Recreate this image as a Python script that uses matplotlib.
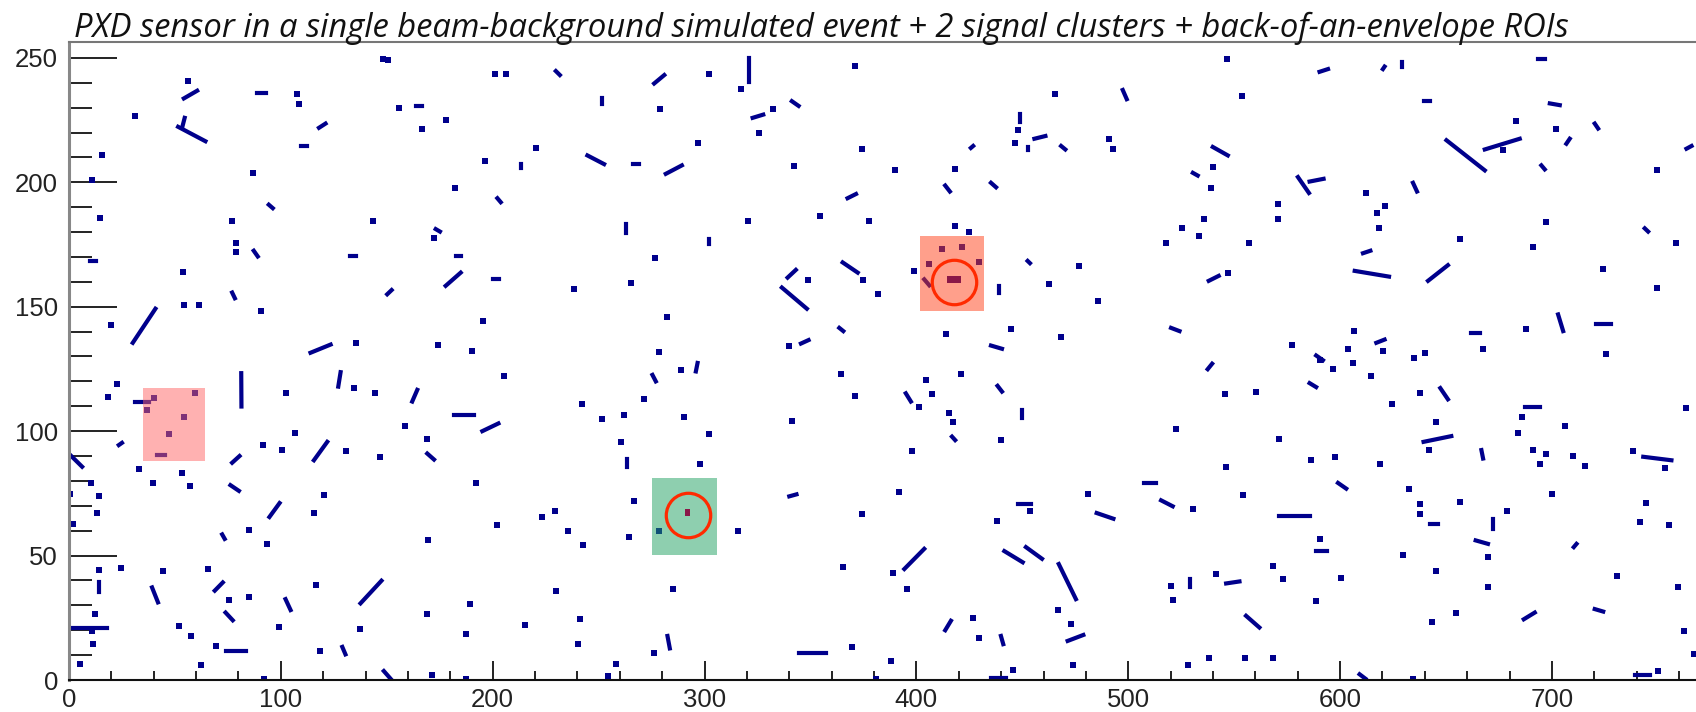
import matplotlib
matplotlib.use('Agg')
import matplotlib.pyplot as plt
from matplotlib.patches import Rectangle

plt.rcParams['font.family'] = ['Liberation Sans', 'DejaVu Sans']

title = 'PXD sensor in a single beam-background simulated event + 2 signal clusters + back-of-an-envelope ROIs'

# single fired pixels / compact clusters (column, row)
dots = [
    (148, 249.6), (150.5, 249), (56.2, 240.8), (155.7, 229.7), (177.8, 224.9), (166.4, 221.6),
    (31, 226.7), (15.6, 210.8), (10.9, 201.1), (86.9, 203.6), (182.2, 197.8), (14.5, 185.5),
    (77, 184.3), (143.6, 184.3), (172.3, 177.5), (78.6, 175.6), (78.6, 171.8), (53.7, 164.1),
    (54.2, 150.6), (61.3, 150.7), (90.7, 148.3), (20, 142.5), (135.3, 135.5), (174.2, 134.5),
    (190.1, 132.1), (107.4, 235.3), (108.5, 231.3),
    (201.1, 243.4), (206.5, 243.4), (301.9, 243.5), (317.1, 237.5), (371, 246.9), (279, 229.4),
    (332.1, 229.4), (325.8, 219.8), (296.7, 215.8), (220.3, 213.8), (196.4, 208.7), (342.3, 206.6),
    (374.1, 213.5), (354.6, 186.3), (377.5, 184.3), (320.5, 184.3), (276.5, 169.5), (238.4, 157),
    (265.2, 159.7), (348.6, 160.8), (374.6, 160.8), (381.7, 155), (195.4, 144.2), (282.5, 146),
    (340, 134.4), (278.6, 131.7),
    (546.7, 249.6), (465.4, 235.6), (553.8, 234.8), (447.8, 220.9), (446.4, 215.7), (491.1, 217.5),
    (493, 213.5), (389.7, 204.8), (418.3, 205.4), (539.9, 206.3), (539.1, 197.9), (570.6, 191.3),
    (418.2, 182.6), (425, 180.1), (535.7, 185.3), (525.4, 181.5), (533.6, 178.5), (517.9, 175.6),
    (556.9, 175.6), (570.6, 185.3), (399, 164.4), (462.7, 159.3), (476.6, 166.4), (485.6, 152.3),
    (547, 163.7), (413.9, 138.9), (444.6, 141.1), (468.3, 137.9),
    (412, 173.2), (421.5, 173.8), (405.8, 167.1), (429.4, 168),
    (683.2, 224.5), (702.1, 221.6), (749.4, 204.8), (612.4, 195.7), (617.4, 187.7), (621, 190.6),
    (618.3, 181.5), (656.5, 177.2), (697.1, 184.2), (691.1, 173.8), (758.5, 175.6), (724.2, 165.1),
    (749.4, 157.7), (606.4, 140.2), (577.4, 134.8), (603.7, 133.1), (620.2, 132.1), (634.7, 129.4),
    (639.9, 131.5), (667.5, 133.1), (687.6, 141.1), (725.4, 131.2), (676.9, 212.8),
    (22.7, 119), (18.4, 113.9), (40, 113.2), (36.9, 108.5), (59.7, 115.2), (54.2, 105.8),
    (47.4, 98.8), (134.5, 117.3), (102.2, 115.2), (144.4, 115.2), (158.6, 102.1), (169.1, 96.8),
    (32.9, 84.6), (39.7, 79.2), (53.4, 83.2), (56.9, 78), (10.2, 79.2), (14, 73.8), (13.2, 67.1),
    (1.7, 62.8), (0.5, 74.9), (91.5, 94.4), (100.6, 92.4), (106.6, 99.4), (130.9, 92.1),
    (146.6, 89.7), (120.6, 74.2), (115.6, 67.1), (85.2, 60.1), (93.5, 54.7), (169.6, 56.3),
    (191.9, 79.2), (14.3, 44.2), (24.4, 45), (44.4, 44), (65.7, 44.6), (75.4, 32.1), (85.2, 33.5),
    (116.4, 38.3), (189.1, 30.5), (169.1, 26.7), (12.1, 26.5), (10.9, 19.7), (11.2, 14.4),
    (5.4, 6.6), (52.1, 21.7), (57.8, 17.7), (69.4, 13.7), (99, 21.1), (137.2, 20.4), (118.3, 11.7),
    (62.5, 6), (187.2, 18.4), (171.5, 2.2), (92, 0.5),
    (205.4, 122.2), (288.8, 124.7), (364.4, 123.1), (371, 114.2), (271.2, 113), (242, 110.8),
    (251.5, 104.9), (262, 106.5), (290.5, 105.8), (341.2, 104.2), (301.9, 98.8), (260.5, 95.7),
    (297.8, 86.7), (266.8, 71.9), (229.4, 67.9), (223.1, 65.7), (374.3, 66.8), (202.2, 62.1),
    (235.7, 59.7), (242.7, 54.4), (264.4, 57.4), (278.6, 59.7), (315.6, 59.7), (365.2, 45.6),
    (284.9, 36.5), (229.8, 35.9), (215.1, 22), (241.1, 24.4), (240.5, 14.6), (276.2, 11),
    (369.6, 13.3), (258.1, 6.3), (254.2, 1.6), (187.2, 0.5), (380.9, 0.5),
    (421, 123), (404.5, 120.4), (401, 109.9), (407.6, 114.8), (415.5, 107.2), (417.1, 103.8),
    (439.9, 96.4), (397.9, 92.1), (522.6, 100.7), (545.9, 115), (560.1, 115.7), (546.2, 85.4),
    (391.9, 75.6), (480.9, 74.9), (453.6, 67.9), (530.5, 68.8), (554.1, 74.2), (437.9, 63.9),
    (389.1, 43), (395.8, 36.6), (466.7, 28.1), (426.5, 24.8), (429.7, 16.8), (473, 22.4),
    (388, 7.6), (445.4, 3.9), (473.8, 6), (520.2, 37.9), (541.2, 42.6), (521, 32.1), (528.1, 6),
    (538.3, 9), (554.9, 8.7), (568.2, 9), (568.2, 46), (571.1, 96.7),
    (590.3, 128.4), (596.6, 124.9), (606.1, 127.4), (614.7, 122.2), (637.6, 115.2), (624.5, 111),
    (686, 105.8), (763.5, 109.2), (645.4, 103.8), (706, 102.1), (684, 99.4), (642, 92.6),
    (691.1, 92.4), (697.4, 90.8), (694.5, 87), (710, 90), (715.5, 85.9), (738.3, 92.1),
    (753.3, 85), (586.4, 88.3), (597.4, 89.7), (618.7, 86.7), (632.5, 76.9), (637.9, 70.9),
    (656.8, 71.5), (699.8, 74.9), (679, 67.9), (744.6, 71.1), (637.6, 66.6), (741.8, 63.5),
    (755.3, 62.1), (590.3, 56.7), (629.7, 50.4), (669.8, 49.6), (573, 40.6), (600.6, 41),
    (645.4, 44), (730.5, 41.9), (669.8, 37.5), (759.6, 37.5), (588.7, 31.6), (654.9, 27.1),
    (643.5, 23.5), (762.3, 19.7), (767, 10.6), (634.4, 0.5), (750.1, 3.6),
]

# elongated clusters (x0, y0, x1, y1)
tracks = [
    (54.2, 233.7, 60.5, 236.8), (88.8, 235.7, 92.8, 235.7), (163.6, 230.7, 166.8, 230.7),
    (54.6, 225.9, 53.6, 222.6), (51.5, 222.3, 64.4, 216.5), (118, 221.9, 121.1, 223.6),
    (109.3, 214.6, 112.4, 214.6), (94.3, 191, 96.2, 189.6), (173.1, 181.2, 175.1, 180.2),
    (87.2, 172.5, 89.1, 170.2), (10.1, 168.4, 12.9, 168.4), (132.6, 170.2, 135.3, 170.2),
    (182.5, 170.2, 185.2, 170.2), (177.8, 158.4, 184.9, 163.7), (77, 155.7, 78.3, 153.4),
    (150.2, 155, 152.3, 156.7), (30.1, 135.5, 40.8, 149.2), (114, 131.5, 123.5, 134.8),
    (229.8, 244.7, 231.7, 243.1), (276.2, 239.7, 281, 243.1), (320.8, 249.8, 320.8, 240.4),
    (251.5, 233.7, 251.5, 231.3), (322.7, 225.9, 327.7, 227.2), (341.2, 232.6, 344.4, 230.7),
    (213.5, 207.5, 213.5, 205.7), (244.7, 210.8, 252.6, 207.3), (266, 207.5, 269.1, 207.5),
    (281.7, 203.4, 289.3, 206.8), (202.2, 193.6, 203.8, 192), (367.5, 193.6, 371.5, 195.3),
    (262.8, 183.2, 262.8, 179.6), (301.9, 177.2, 301.9, 175.2), (365.2, 167.8, 372.3, 163.7),
    (339.2, 161.7, 343.1, 164.8), (336.5, 157.7, 348.3, 149.2), (363.6, 141.5, 365.5, 140.2),
    (345.5, 135.2, 349.1, 136.6), (200, 161.3, 203, 161.3),
    (497.4, 237.1, 499.3, 233.4), (448.9, 227.6, 448.9, 224.3), (455.7, 217.5, 460.9, 218.6),
    (452.5, 214.2, 452.5, 212.8), (468.3, 214.6, 470.3, 213.2), (425.7, 213.8, 426.8, 214.6),
    (413.6, 198.7, 415.8, 196.3), (435.2, 199.8, 437.6, 198), (539.9, 214.2, 547, 210.8),
    (530.5, 203.8, 532.8, 202.7), (439.1, 158.4, 439.1, 155.7), (452.5, 168.4, 453.6, 167.5),
    (538, 160.4, 542.7, 162.4), (435.2, 134.4, 440.4, 133.1), (520.2, 141.5, 524.2, 140.2),
    (403.7, 161, 406.1, 158.6),
    (693.5, 249.6, 696.5, 249.6), (590.3, 244.4, 594.3, 245.5), (620.2, 245.5, 621, 246.5),
    (629.4, 248.2, 629.4, 246.5), (639.5, 232.6, 642.5, 232.6), (699, 231.7, 703.7, 231),
    (720.2, 223.6, 721.8, 221.6), (650.2, 216.9, 668.3, 204.8), (668.3, 213.2, 684.8, 217.5),
    (708.4, 217.5, 706.8, 215.5), (763.5, 213.5, 765.9, 214.6), (695, 206.8, 696.6, 205.2),
    (580.1, 202.1, 585.3, 195.7), (585.6, 200.3, 592.2, 201.4), (634.4, 199.8, 636.3, 196.3),
    (743.8, 181.5, 745.4, 180.2), (610.8, 171.5, 614.3, 172.5), (606.9, 164.4, 623.1, 162.1),
    (641.5, 160.4, 650.9, 166.7), (588.7, 130.4, 591.9, 128.5), (617.1, 135.5, 621, 136.8),
    (662, 139.5, 666, 139.5), (702.9, 146.9, 705.3, 140.2), (721, 143.1, 728.1, 143.1),
    (31.3, 111.9, 37.6, 111.9), (41.6, 90.4, 45.5, 90.4), (81.3, 123.3, 81.4, 109.9),
    (128.2, 123.7, 127.1, 117.9), (162, 111.9, 164.4, 116.6), (181.7, 106.5, 191.2, 106.5),
    (169.1, 91, 172.3, 88.6), (23.5, 94.4, 25, 95.3), (0.6, 90.4, 6.2, 85.7),
    (115.6, 88.3, 121.9, 95.7), (77, 87.3, 80.5, 90), (76.2, 78.3, 80.2, 76),
    (94.6, 65.5, 99.4, 71.1), (72.3, 58.5, 73.5, 56.7), (14, 39.2, 14, 35.2),
    (39.2, 37.2, 42, 31.2), (68.8, 35.9, 72.6, 39.2), (102.2, 32.5, 104.6, 28.1),
    (137.6, 30.8, 147.5, 39.9), (1.4, 20.8, 18, 20.8), (73.9, 27.1, 77.3, 24),
    (73.9, 11.7, 83.6, 11.7), (129, 13.3, 130.5, 10.3), (148.6, 3.6, 151.8, 0.5),
    (275.4, 122.6, 277, 120), (296.7, 127.4, 295.9, 124), (195.1, 100, 202.7, 103.1),
    (263.6, 89, 263.6, 85.7), (340, 73.8, 343.4, 74.6), (282.5, 17.7, 283.6, 12.7),
    (344.7, 11, 357.3, 11),
    (539.6, 127.1, 537.5, 124.9), (395, 115.2, 397.4, 111.9), (438.3, 118.2, 440.4, 115.9),
    (449.7, 108.5, 449.7, 105.2), (416.8, 97.8, 418.3, 96.4), (507.6, 79.2, 513.1, 79.2),
    (447.8, 70.6, 454.1, 70.6), (485.1, 67.1, 493, 64.8), (515.5, 72.2, 521, 69.8),
    (394.3, 44.6, 403.7, 52.7), (441.5, 51.8, 450.2, 47.3), (451.7, 53.4, 459.3, 48.7),
    (467.2, 46.6, 475.3, 32.5), (413.6, 20, 416.3, 23.8), (439.9, 17.7, 441, 14.4),
    (471.4, 15.7, 478.8, 18.1), (435.2, 0.7, 442.3, 0.7), (529.2, 40.6, 529.2, 37.5),
    (546.2, 38.8, 552.5, 39.6), (555.6, 25.8, 561.9, 21.1),
    (585.6, 119.3, 588.7, 117.7), (647.3, 117.3, 650.9, 112.8), (687.2, 109.9, 694.2, 109.9),
    (639.4, 95.7, 652.5, 98), (666.7, 92.4, 667.5, 89), (743.1, 89.7, 756.4, 88.3),
    (599, 79.2, 602.9, 76.9), (571.1, 65.9, 585.6, 65.9), (642.5, 62.8, 646, 62.8),
    (672.2, 64.8, 672.2, 60.8), (588.7, 51.7, 593.8, 51.7), (664, 56.1, 669.8, 54.7),
    (711.6, 54.7, 710.3, 53.4), (686.7, 24.4, 691.9, 27.1), (720.2, 28.5, 724.2, 27.5),
    (609.2, 2.3, 612, 0.5), (739.1, 2.2, 746.2, 2.2),
]

# regions of interest (x0, x1, y0, y1) and their colours
roi_x0 = [35.0, 401.5, 275.4]
roi_x1 = [64.4, 432.1, 305.7]
roi_y0 = [88.1, 148.3, 50.4]
roi_y1 = [117.3, 178.6, 81.0]
roi_colors = ['#ff6565', '#ff4119', '#1fa161']

# signal clusters: centre, width, height
sig_x = [417.8, 292.0]
sig_y = [161.0, 67.3]
sig_w = [6.3, 2.2]
sig_h = [2.7, 3.1]

fig = plt.figure(figsize=(16.96, 7.12), dpi=100)
ax = fig.add_axes([69 / 1696, 1 - 680 / 712, 1 - 69 / 1696, (680 - 41.7) / 712])

pix_color = '#00008c'
for x0, y0, x1, y1 in tracks:
    ax.plot([x0, x1], [y0, y1], color=pix_color, lw=3.0, solid_capstyle='projecting', zorder=2)
ax.plot([d[0] for d in dots], [d[1] for d in dots], 's', color=pix_color, ms=4.2, mew=0, zorder=2)

for i in range(len(roi_x0)):
    ax.add_patch(Rectangle((roi_x0[i], roi_y0[i]), roi_x1[i] - roi_x0[i], roi_y1[i] - roi_y0[i],
                           facecolor=roi_colors[i], edgecolor='none', alpha=0.5, zorder=3))

for i in range(len(sig_x)):
    ax.add_patch(Rectangle((sig_x[i] - sig_w[i] / 2, sig_y[i] - sig_h[i] / 2), sig_w[i], sig_h[i],
                           facecolor='#8a1848', edgecolor='none', zorder=4))
ax.plot(sig_x, [y - 1.0 for y in sig_y], 'o', mfc='none', mec='#ff2a00', ms=32, mew=2.3, zorder=5)

ax.set_xlim(0, 768)
ax.set_ylim(0, 256.5)
ax.set_xticks(range(0, 701, 100))
ax.set_xticks(range(0, 769, 20), minor=True)
ax.set_yticks(range(0, 251, 50))
ax.set_yticks(range(0, 257, 10), minor=True)

ax.tick_params(axis='y', which='major', direction='in', length=34.6, width=1.4, color='#222222',
               pad=8, labelsize=18.5, labelcolor='#222222')
ax.tick_params(axis='y', which='minor', direction='in', length=16.6, width=1.4, color='#222222')
ax.tick_params(axis='x', which='major', direction='in', length=13.7, width=1.4, color='#222222',
               pad=6, labelsize=18.5, labelcolor='#222222')
ax.tick_params(axis='x', which='minor', direction='in', length=6.5, width=1.4, color='#222222')

ax.spines['right'].set_visible(False)
ax.spines['left'].set_color('#888888')
ax.spines['left'].set_linewidth(2.2)
ax.spines['top'].set_color('#777777')
ax.spines['top'].set_linewidth(1.5)
ax.spines['bottom'].set_color('#111111')
ax.spines['bottom'].set_linewidth(1.5)

fig.text(74 / 1696, 1 - 36.7 / 712, title, fontsize=23.6, fontstyle='italic',
         family=['Open Sans', 'DejaVu Sans'], color='#111111', va='baseline', ha='left')

fig.savefig('out.png', dpi=100)
